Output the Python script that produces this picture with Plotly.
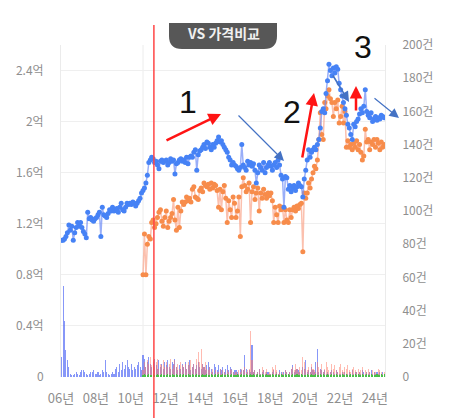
import pandas as pd
import plotly.graph_objects as go

# ---- data (억 / 건), monthly ----
blue_start = "2006-01"
blue_price = [
    1.07, 1.07, 1.08, 1.10, 1.13, 1.19, 1.15, 1.18, 1.07, 1.13, 1.17, 1.21,  # 2006
    1.18, 1.21, 1.17, 1.14, 1.12, 1.09, 1.29, 1.24, 1.25, 1.23, 1.22, 1.24,  # 2007
    1.25, 1.27, 1.29, 1.10, 1.33, 1.27, 1.26, 1.25, 1.28, 1.31, 1.30, 1.33,  # 2008
    1.30, 1.31, 1.32, 1.29, 1.33, 1.36, 1.31, 1.30, 1.33, 1.36, 1.35, 1.36,  # 2009
    1.35, 1.37, 1.36, 1.34, 1.36, 1.38, 1.40, 1.44, 1.46, 1.48, 1.52, 1.58,  # 2010
    1.68, 1.70, 1.72, 1.71, 1.68, 1.69, 1.66, 1.63, 1.69, 1.70, 1.68, 1.69,  # 2011
    1.70, 1.66, 1.68, 1.71, 1.69, 1.70, 1.59, 1.67, 1.68, 1.70, 1.71, 1.69,  # 2012
    1.70, 1.68, 1.72, 1.67, 1.72, 1.73, 1.72, 1.76, 1.78, 1.62, 1.74, 1.77,  # 2013
    1.78, 1.80, 1.82, 1.79, 1.84, 1.83, 1.80, 1.78, 1.82, 1.80, 1.83, 1.85,  # 2014
    1.88, 1.84, 1.85, 1.82, 1.80, 1.78, 1.76, 1.72, 1.70, 1.66, 1.68, 1.66,  # 2015
    1.65, 1.63, 1.62, 1.64, 1.82, 1.66, 1.64, 1.62, 1.69, 1.66, 1.68, 1.65,  # 2016
    1.67, 1.62, 1.52, 1.60, 1.66, 1.64, 1.62, 1.68, 1.60, 1.64, 1.66, 1.68,  # 2017
    1.65, 1.62, 1.66, 1.68, 1.64, 1.70, 1.66, 1.58, 1.55, 1.33, 1.57, 1.56,  # 2018
    1.47, 1.50, 1.45, 1.48, 1.50, 1.46, 1.49, 1.52, 1.50, 1.49, 1.41, 1.55,  # 2019
    1.62, 1.70, 1.78, 1.72, 1.76, 1.78, 1.80, 1.78, 1.82, 1.86, 1.95, 2.08,  # 2020
    2.10, 2.07, 2.22, 2.32, 2.45, 2.40, 2.36, 2.42, 2.38, 2.43, 2.41, 2.30,  # 2021
    2.25, 2.20, 2.15, 2.10, 2.05, 1.98, 1.95, 1.90, 1.86, 1.98, 1.96, 2.00,  # 2022
    2.02, 2.06, 2.10, 2.07, 2.12, 2.25, 2.08, 2.05, 2.03, 2.07, 2.00, 2.02,  # 2023
    2.04, 2.01, 2.03, 2.02, 2.05, 2.04, 2.03,                                # 2024
]
orange_start = "2010-09"
orange_price = [
    0.80, 1.12, 0.80, 1.04,                                                  # 2010
    1.10, 1.08, 1.21, 1.23, 1.17, 1.20, 1.25, 1.29, 1.31, 1.22, 1.18, 1.25,  # 2011
    1.30, 1.17, 1.22, 1.25, 1.28, 1.39, 1.23, 1.15, 1.33, 1.17, 1.30, 1.37,  # 2012
    1.35, 1.37, 1.41, 1.38, 1.40, 1.37, 1.47, 1.49, 1.41, 1.40, 1.39, 1.46,  # 2013
    1.48, 1.45, 1.52, 1.50, 1.49, 1.51, 1.47, 1.52, 1.48, 1.51, 1.50, 1.46,  # 2014
    1.33, 1.47, 1.31, 1.45, 1.50, 1.40, 1.21, 1.38, 1.31, 1.25, 1.41, 1.36,  # 2015
    1.25, 1.30, 1.41, 1.10, 1.49, 1.56, 1.50, 1.45, 1.47, 1.52, 1.21, 1.45,  # 2016
    1.49, 1.39, 1.44, 1.48, 1.30, 1.44, 1.40, 1.47, 1.43, 1.40, 1.44, 1.42,  # 2017
    1.44, 1.38, 1.21, 1.33, 1.27, 1.21, 1.34, 1.31, 1.33, 1.21, 1.31, 1.23,  # 2018
    1.21, 1.31, 1.25, 1.31, 1.33, 1.30, 1.34, 1.32, 1.35, 1.36, 0.98, 1.44,  # 2019
    1.40, 1.44, 1.52, 1.48, 1.55, 1.60, 1.65, 1.63, 1.70, 1.86, 2.07, 1.90,  # 2020
    1.86, 2.15, 2.10, 2.20, 2.25, 2.18, 2.15, 2.04, 2.15, 2.10, 2.17, 1.99,  # 2021
    2.04, 2.12, 1.99, 2.08, 1.80, 1.85, 1.80, 1.82, 1.78, 1.83, 1.80, 1.85,  # 2022
    1.78, 1.82, 1.76, 1.70, 1.73, 1.94, 1.84, 1.86, 1.78, 1.84, 1.82, 1.86,  # 2023
    1.80, 1.86, 1.83, 1.78, 1.84, 1.80, 1.82,                                # 2024
]
blue_volume = [
    12, 55, 34, 16, 10, 6, 2, 1, 1, 2, 3, 2,
    1, 3, 4, 4, 3, 2, 1, 2, 3, 3, 4, 2,
    2, 3, 1, 2, 4, 3, 10, 3, 2, 1, 2, 3,
    2, 5, 6, 3, 8, 4, 9, 5, 7, 10, 6, 5,
    8, 4, 6, 5, 7, 9, 6, 4, 13, 11, 6, 9,
    12, 8, 6, 9, 11, 7, 5, 10, 6, 8, 5, 9,
    7, 10, 6, 5, 9, 8, 11, 6, 4, 7, 5, 8,
    6, 9, 5, 7, 10, 4, 6, 8, 5, 7, 9, 6,
    5, 8, 6, 4, 7, 9, 6, 5, 3, 8, 6, 4,
    7, 5, 4, 6, 3, 5, 7, 4, 6, 5, 3, 4,
    4, 3, 2, 5, 4, 4, 13, 5, 3, 4, 3, 19,
    3, 4, 2, 3, 5, 2, 3, 4, 2, 3, 3, 2,
    2, 3, 4, 2, 3, 2, 4, 3, 2, 3, 4, 3,
    2, 3, 5, 7, 3, 4, 5, 4, 3, 2, 6, 5,
    10, 3, 4, 3, 6, 4, 3, 9, 17, 3, 5, 4,
    3, 4, 2, 3, 2, 3, 4, 3, 2, 4, 3, 2,
    2, 3, 2, 3, 2, 2, 3, 2, 4, 2, 3, 3,
    2, 3, 2, 4, 3, 2, 3, 2, 3, 4, 2, 3,
    2, 3, 2, 3, 2, 3, 2,
]
orange_volume = [
    4, 9, 6, 10,
    8, 12, 7, 10, 6, 9, 11, 5, 8, 7, 10, 6,
    9, 6, 8, 11, 5, 7, 10, 6, 8, 5, 9, 7,
    6, 8, 5, 9, 7, 10, 6, 8, 5, 11, 15, 9,
    17, 8, 6, 9, 5, 4, 6, 3, 5, 2, 4, 3,
    3, 5, 2, 4, 3, 2, 4, 3, 5, 4, 3, 2,
    3, 2, 4, 3, 5, 4, 6, 3, 4, 5, 28, 10,
    3, 4, 2, 3, 5, 2, 6, 4, 3, 5, 2, 3,
    2, 6, 5, 7, 4, 2, 3, 2, 3, 2, 4, 3,
    2, 3, 5, 6, 4, 8, 5, 3, 6, 4, 12, 9,
    5, 4, 6, 3, 8, 5, 4, 3, 9, 6, 4, 8,
    3, 5, 9, 6, 4, 3, 8, 5, 7, 4, 3, 6,
    8, 4, 3, 6, 5, 7, 4, 3, 5, 6, 4, 3,
    5, 3, 4, 6, 2, 4, 3, 5, 3, 2, 4, 3,
    3, 2, 5, 4, 3, 2, 3,
]
green_volume = [
    1, 2, 1, 1,
    2, 1, 1, 2, 1, 1, 2, 1, 1, 2, 1, 1,
    1, 2, 1, 1, 2, 1, 1, 2, 1, 1, 2, 1,
    2, 1, 1, 2, 1, 1, 2, 1, 1, 2, 1, 1,
    1, 2, 1, 1, 2, 1, 1, 2, 1, 1, 2, 1,
    2, 1, 1, 2, 1, 1, 2, 1, 1, 2, 1, 1,
    1, 2, 1, 1, 2, 1, 1, 2, 1, 1, 2, 1,
    2, 1, 1, 2, 1, 1, 2, 1, 1, 2, 1, 1,
    1, 2, 1, 1, 2, 1, 1, 2, 1, 1, 2, 1,
    2, 1, 1, 2, 1, 1, 2, 1, 1, 2, 1, 1,
    1, 2, 1, 1, 2, 1, 1, 2, 1, 1, 2, 1,
    2, 1, 1, 2, 1, 1, 2, 1, 1, 2, 1, 1,
    1, 2, 1, 1, 2, 1, 1, 2, 1, 1, 2, 1,
    2, 1, 1, 2, 1, 1, 2, 1, 1, 2, 1, 1,
    1, 2, 1, 1, 2, 1, 2,
]
left_ticks = [0, 0.4, 0.8, 1.2, 1.6, 2.0, 2.4]
left_labels = ["0", "0.4억", "0.8억", "1.2억", "1.6억", "2억", "2.4억"]
right_ticks = [0, 20, 40, 60, 80, 100, 120, 140, 160, 180, 200]
right_labels = ["0"] + [f"{v}건" for v in right_ticks[1:]]
x_tick_years = [2006, 2008, 2010, 2012, 2014, 2016, 2018, 2020, 2022, 2024]
x_tick_labels = [f"{y % 100:02d}년" for y in x_tick_years]
marker_date = "2011-05-01"   # red vertical line


def months(start, n):
    return pd.date_range(start=start + "-01", periods=n, freq="MS") + pd.Timedelta(days=14)


xb = months(blue_start, len(blue_price))
xbv = months(blue_start, len(blue_volume))
xo = months(orange_start, len(orange_price))
xov = months(orange_start, len(orange_volume))
xg = months(orange_start, len(green_volume))

W, H = 466, 418
L, R, T, B = 61, 81, 45, 41
PW, PH = W - L - R, H - T - B


def px(x):
    return (x - L) / PW


def py(y):
    return (H - B - y) / PH


FONT = "Noto Sans CJK KR"
bar_w = 22 * 24 * 3600 * 1000

fig = go.Figure()
fig.add_trace(go.Bar(x=xbv, y=blue_volume, yaxis="y2", width=bar_w,
                     marker=dict(color="rgba(70,95,245,0.65)", line=dict(width=0))))
fig.add_trace(go.Bar(x=xov, y=orange_volume, yaxis="y2", width=bar_w,
                     marker=dict(color="rgba(255,120,100,0.5)", line=dict(width=0))))
fig.add_trace(go.Bar(x=xg, y=green_volume, yaxis="y2", width=bar_w,
                     marker=dict(color="rgba(60,200,60,0.9)", line=dict(width=0))))
fig.add_trace(go.Scatter(x=xo, y=orange_price, mode="lines+markers",
                         line=dict(color="rgba(250,165,140,0.7)", width=1.5),
                         marker=dict(color="rgb(247,140,75)", size=5)))
fig.add_trace(go.Scatter(x=xb, y=blue_price, mode="lines+markers",
                         line=dict(color="rgba(110,140,245,0.7)", width=1.5),
                         marker=dict(color="rgb(70,130,245)", size=5)))

shapes = [
    dict(type="line", xref="x", yref="paper", x0=xo[0], x1=xo[0], y0=0, y1=1,
         line=dict(color="#ececec", width=1), layer="below"),
    dict(type="line", xref="x", yref="paper", x0=marker_date, x1=marker_date,
         y0=py(418), y1=py(25), line=dict(color="rgb(255,70,70)", width=1.5)),
]
x0b, x1b, ytb, ybb, rx, ry = px(169), px(277), py(23), py(49), 13 / PW, 13 / PH
shapes.append(dict(
    type="path", xref="paper", yref="paper",
    path=(f"M {x0b},{ytb} L {x1b},{ytb} L {x1b},{ybb + ry} Q {x1b},{ybb} {x1b - rx},{ybb} "
          f"L {x0b + rx},{ybb} Q {x0b},{ybb} {x0b},{ybb + ry} Z"),
    fillcolor="#575757", line=dict(width=0)))


def label(x, y, text, font):
    return dict(x=px(x), y=py(y), xref="paper", yref="paper", text=text,
                showarrow=False, xanchor="center", yanchor="middle", font=font)


annotations = [
    label(223, 33, "<b>VS 가격비교</b>", dict(family=FONT, size=14, color="#f0f0f0")),
    label(188, 102, "1", dict(family="Liberation Sans", size=32, color="#111")),
    label(292, 112, "2", dict(family="Liberation Sans", size=32, color="#111")),
    label(363, 47, "3", dict(family="Liberation Sans", size=32, color="#111")),
]


def arrow(tail, head, color, width, size):
    return dict(x=px(head[0]), y=py(head[1]), xref="paper", yref="paper",
                ax=tail[0] - head[0], ay=tail[1] - head[1], axref="pixel", ayref="pixel",
                text="", showarrow=True, arrowhead=2, arrowsize=size,
                arrowwidth=width, arrowcolor=color)


annotations += [
    arrow((165, 141), (221, 114), "rgb(255,20,20)", 2.5, 1.0),
    arrow((302, 159), (314, 93), "rgb(255,20,20)", 2.5, 1.0),
    arrow((356, 112), (356, 86), "rgb(255,20,20)", 2.5, 1.0),
    arrow((237, 114), (284, 161), "rgb(68,114,196)", 1.2, 1.6),
    arrow((332, 74), (349, 102), "rgb(68,114,196)", 1.6, 1.3),
    arrow((373, 97), (399, 118), "rgb(68,114,196)", 1.2, 1.6),
]

fig.update_layout(
    width=W, height=H, margin=dict(l=L, r=R, t=T, b=B),
    paper_bgcolor="white", plot_bgcolor="white",
    showlegend=False, barmode="overlay", bargap=0,
    font=dict(family=FONT, size=12, color="#8f8f8f"),
    xaxis=dict(range=["2006-01-01", "2024-08-01"],
               tickvals=[f"{y}-01-01" for y in x_tick_years], ticktext=x_tick_labels,
               showgrid=False, zeroline=False, showline=False,
               ticks="outside", ticklen=9, tickcolor="rgba(0,0,0,0)",
               tickfont=dict(size=13, color="#8f8f8f")),
    yaxis=dict(range=[0, 2.6], tickvals=left_ticks, ticktext=left_labels,
               showgrid=True, gridcolor="#efefef", gridwidth=1, zeroline=False,
               showline=True, linecolor="#ebebeb", linewidth=1,
               ticks="outside", ticklen=14, tickcolor="rgba(0,0,0,0)",
               tickfont=dict(size=12, color="#8f8f8f")),
    yaxis2=dict(range=[0, 200], tickvals=right_ticks, ticktext=right_labels,
                overlaying="y", side="right", showgrid=False, zeroline=False,
                showline=True, linecolor="#ebebeb", linewidth=1,
                ticks="outside", ticklen=14, tickcolor="rgba(0,0,0,0)",
                tickfont=dict(size=12, color="#8f8f8f")),
    shapes=shapes, annotations=annotations,
)

fig.write_html("out.html", config={"displayModeBar": False},
               post_script="document.body.style.margin='0';document.body.style.overflow='hidden';")
